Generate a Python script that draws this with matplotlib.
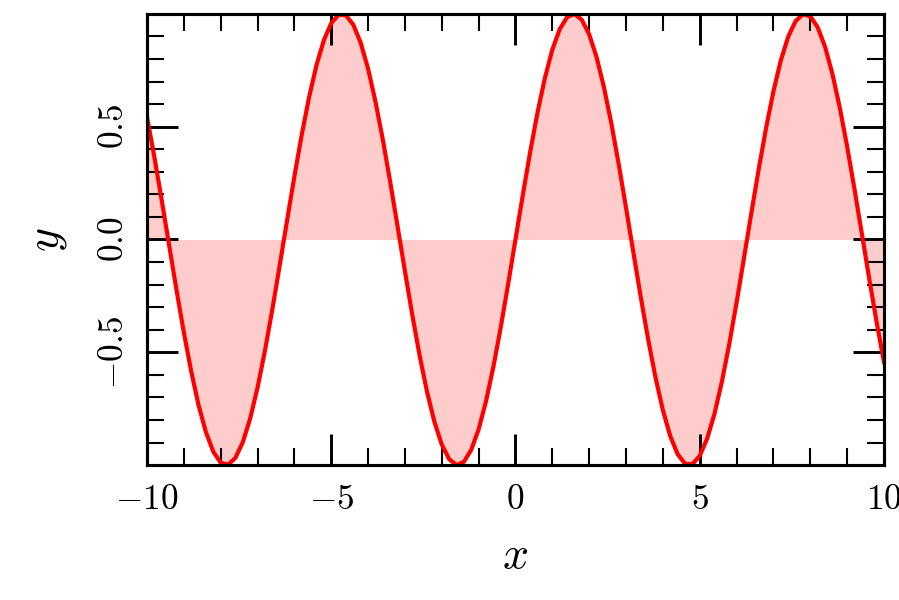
import matplotlib
matplotlib.use("Agg")
import matplotlib.pyplot as plt
from matplotlib.ticker import MultipleLocator, FuncFormatter

plt.rcParams['mathtext.fontset'] = 'cm'
plt.rcParams['font.family'] = 'serif'
plt.rcParams['font.serif'] = ['DejaVu Serif']

x_vals = [-10.0, -9.8, -9.6, -9.4, -9.2, -9.0, -8.8, -8.6, -8.4, -8.2,
          -8.0, -7.8, -7.6, -7.4, -7.2, -7.0, -6.8, -6.6, -6.4, -6.2,
          -6.0, -5.8, -5.6, -5.4, -5.2, -5.0, -4.8, -4.6, -4.4, -4.2,
          -4.0, -3.8, -3.6, -3.4, -3.2, -3.0, -2.8, -2.6, -2.4, -2.2,
          -2.0, -1.8, -1.6, -1.4, -1.2, -1.0, -0.8, -0.6, -0.4, -0.2,
          0.0, 0.2, 0.4, 0.6, 0.8, 1.0, 1.2, 1.4, 1.6, 1.8,
          2.0, 2.2, 2.4, 2.6, 2.8, 3.0, 3.2, 3.4, 3.6, 3.8,
          4.0, 4.2, 4.4, 4.6, 4.8, 5.0, 5.2, 5.4, 5.6, 5.8,
          6.0, 6.2, 6.4, 6.6, 6.8, 7.0, 7.2, 7.4, 7.6, 7.8,
          8.0, 8.2, 8.4, 8.6, 8.8, 9.0, 9.2, 9.4, 9.6, 9.8, 10.0]
y_vals = [0.5440, 0.3665, 0.1743, -0.0248, -0.2229, -0.4121, -0.5849, -0.7344, -0.8546, -0.9407,
          -0.9894, -0.9985, -0.9679, -0.8987, -0.7937, -0.6570, -0.4941, -0.3115, -0.1165, 0.0831,
          0.2794, 0.4646, 0.6313, 0.7728, 0.8835, 0.9589, 0.9962, 0.9937, 0.9516, 0.8716,
          0.7568, 0.6119, 0.4425, 0.2555, 0.0584, -0.1411, -0.3350, -0.5155, -0.6755, -0.8085,
          -0.9093, -0.9738, -0.9996, -0.9854, -0.9320, -0.8415, -0.7174, -0.5646, -0.3894, -0.1987,
          0.0, 0.1987, 0.3894, 0.5646, 0.7174, 0.8415, 0.9320, 0.9854, 0.9996, 0.9738,
          0.9093, 0.8085, 0.6755, 0.5155, 0.3350, 0.1411, -0.0584, -0.2555, -0.4425, -0.6119,
          -0.7568, -0.8716, -0.9516, -0.9937, -0.9962, -0.9589, -0.8835, -0.7728, -0.6313, -0.4646,
          -0.2794, -0.0831, 0.1165, 0.3115, 0.4941, 0.6570, 0.7937, 0.8987, 0.9679, 0.9985,
          0.9894, 0.9407, 0.8546, 0.7344, 0.5849, 0.4121, 0.2229, 0.0248, -0.1743, -0.3665, -0.5440]

fig = plt.figure(figsize=(899 / 150, 4), dpi=150)
ax = fig.add_axes([0.1635, 0.225, 0.8198, 0.7517])

ax.fill_between(x_vals, y_vals, 0, color='red', alpha=0.2, linewidth=0)
ax.plot(x_vals, y_vals, color='red', lw=2)

ax.set_xlim(min(x_vals), max(x_vals))
ax.set_ylim(min(y_vals), max(y_vals))

ax.xaxis.set_major_locator(MultipleLocator(5))
ax.xaxis.set_minor_locator(MultipleLocator(1))
ax.yaxis.set_major_locator(MultipleLocator(0.5))
ax.yaxis.set_minor_locator(MultipleLocator(0.1))

def fmt_x(v, pos):
    return r'$%d$' % round(v)

def fmt_y(v, pos):
    return r'$%.1f$' % v

ax.xaxis.set_major_formatter(FuncFormatter(fmt_x))
ax.yaxis.set_major_formatter(FuncFormatter(fmt_y))

ax.tick_params(which='both', direction='in', top=True, right=True, labelsize=17)
ax.tick_params(which='major', length=15, width=1.4, pad=8)
ax.tick_params(which='minor', length=8, width=1.0)
for lab in ax.get_yticklabels():
    lab.set_rotation(90)
    lab.set_va('center')
for sp in ax.spines.values():
    sp.set_linewidth(1.5)

ax.set_xlabel(r'$x$', fontsize=22, labelpad=8)
ax.set_ylabel(r'$y$', fontsize=22, labelpad=13)

fig.savefig('out.png', dpi=150)
